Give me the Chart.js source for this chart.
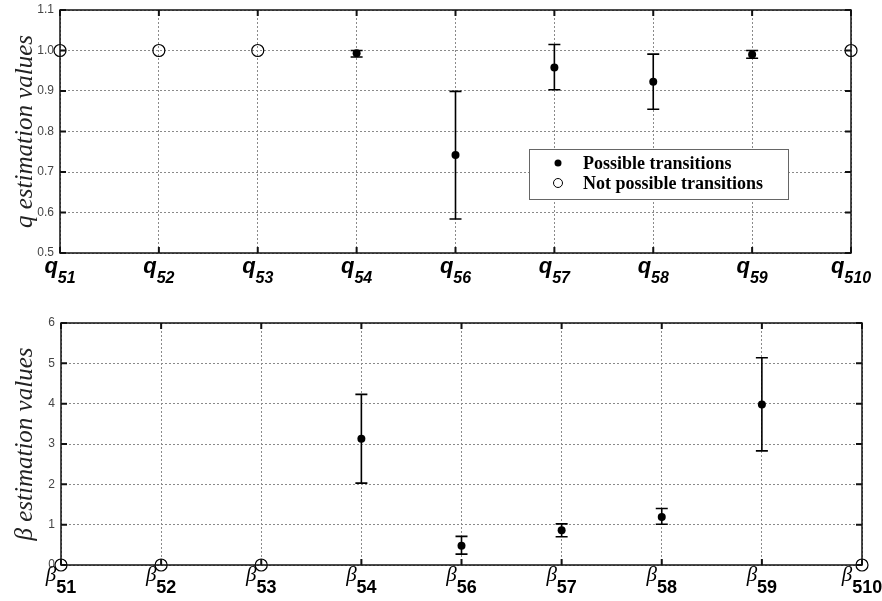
<!DOCTYPE html>
<html>
<head>
<meta charset="utf-8">
<script src="https://cdn.jsdelivr.net/npm/chart.js@4.4.1/dist/chart.umd.min.js"></script>
<style>
  body { margin: 0; background: #fff; width: 882px; height: 601px; overflow: hidden; }
  canvas { position: absolute; left: 0; }
</style>
</head>
<body>
<canvas id="q-chart" width="882" height="290" style="top:0"></canvas>
<canvas id="beta-chart" width="882" height="311" style="top:290px"></canvas>
<script>
// transitions out of state 5
const transitions = ['51', '52', '53', '54', '56', '57', '58', '59', '510'];
const possible = [false, false, false, true, true, true, true, true, false];

// q estimates with error bar ends
const qValues = [1, 1, 1, 0.993, 0.742, 0.958, 0.923, 0.990, 1];
const qLow = [null, null, null, 0.984, 0.584, 0.903, 0.855, 0.981, null];
const qHigh = [null, null, null, 1.0, 0.899, 1.015, 0.991, 1.0, null];

// beta estimates with error bar ends
const betaValues = [0, 0, 0, 3.13, 0.48, 0.86, 1.19, 3.98, 0];
const betaLow = [null, null, null, 2.03, 0.27, 0.70, 1.01, 2.83, null];
const betaHigh = [null, null, null, 4.23, 0.71, 1.02, 1.40, 5.14, null];

const legendLabels = ['Possible transitions', 'Not possible transitions'];

function splitData(values, keep) {
    return values.map((v, i) => possible[i] === keep ? v : null);
}

// error bars, frame with inner ticks, custom axis labels
const decorPlugin = {
    id: 'decor',
    beforeDatasetsDraw(chart, args, opts) {
        const ctx = chart.ctx, x = chart.scales.x, y = chart.scales.y;
        ctx.save();
        ctx.strokeStyle = '#000';
        ctx.lineWidth = 1.6;
        opts.low.forEach((lo, i) => {
            if (lo === null) return;
            const px = x.getPixelForValue(i);
            const y1 = y.getPixelForValue(lo), y2 = y.getPixelForValue(opts.high[i]);
            ctx.beginPath();
            ctx.moveTo(px, y1); ctx.lineTo(px, y2);
            ctx.moveTo(px - 6, y1); ctx.lineTo(px + 6, y1);
            ctx.moveTo(px - 6, y2); ctx.lineTo(px + 6, y2);
            ctx.stroke();
        });
        ctx.restore();
    },
    afterDraw(chart, args, opts) {
        const ctx = chart.ctx, a = chart.chartArea, x = chart.scales.x, y = chart.scales.y;
        ctx.save();
        // frame
        ctx.strokeStyle = '#111';
        ctx.lineWidth = 1.5;
        ctx.strokeRect(a.left, a.top, a.right - a.left, a.bottom - a.top);
        // inner ticks
        ctx.lineWidth = 2;
        ctx.beginPath();
        y.ticks.forEach(t => {
            const py = y.getPixelForValue(t.value);
            ctx.moveTo(a.left, py); ctx.lineTo(a.left + 6, py);
            ctx.moveTo(a.right, py); ctx.lineTo(a.right - 6, py);
        });
        transitions.forEach((_, i) => {
            const px = x.getPixelForValue(i);
            ctx.moveTo(px, a.top); ctx.lineTo(px, a.top + 6);
            ctx.moveTo(px, a.bottom); ctx.lineTo(px, a.bottom - 6);
        });
        ctx.stroke();

        // x labels with subscripts
        ctx.fillStyle = '#000';
        ctx.textBaseline = 'alphabetic';
        ctx.textAlign = 'left';
        transitions.forEach((sub, i) => {
            const px = x.getPixelForValue(i);
            ctx.font = opts.mainFont;
            const w1 = ctx.measureText(opts.symbol).width;
            ctx.font = opts.subFont;
            const w2 = ctx.measureText(sub).width;
            const x0 = px - (w1 + w2) / 2;
            ctx.font = opts.mainFont;
            ctx.fillText(opts.symbol, x0, a.bottom + opts.mainDy);
            ctx.font = opts.subFont;
            ctx.fillText(sub, x0 + w1, a.bottom + opts.subDy);
        });

        // y title
        ctx.save();
        ctx.translate(opts.titleX, (a.top + a.bottom) / 2);
        ctx.rotate(-Math.PI / 2);
        ctx.textAlign = 'center';
        ctx.textBaseline = 'middle';
        ctx.font = 'italic 25px "Liberation Serif", serif';
        ctx.fillStyle = '#222';
        ctx.fillText(opts.title, 0, 0);
        ctx.restore();

        // legend
        if (opts.legend) {
            const L = opts.legend;
            ctx.fillStyle = '#fff';
            ctx.fillRect(L.x, L.y, L.w, L.h);
            ctx.strokeStyle = '#666';
            ctx.lineWidth = 1;
            ctx.strokeRect(L.x + 0.5, L.y + 0.5, L.w, L.h);
            ctx.font = 'bold 18px "Liberation Serif", serif';
            ctx.textBaseline = 'middle';
            legendLabels.forEach((txt, k) => {
                const ry = L.y + 14 + k * 20;
                ctx.beginPath();
                ctx.arc(L.x + 29, ry, k === 0 ? 3.5 : 4.5, 0, Math.PI * 2);
                if (k === 0) { ctx.fillStyle = '#000'; ctx.fill(); }
                else { ctx.strokeStyle = '#000'; ctx.lineWidth = 1; ctx.stroke(); }
                ctx.fillStyle = '#000';
                ctx.fillText(txt, L.x + 54, ry + 1);
            });
        }
        ctx.restore();
    }
};

function makeChart(id, values, low, high, yMin, yMax, step, pad, yWidth, xHeight, decor) {
    return new Chart(document.getElementById(id).getContext('2d'), {
        type: 'line',
        data: {
            labels: transitions,
            datasets: [{
                label: legendLabels[0],
                data: splitData(values, true),
                showLine: false,
                pointRadius: 4,
                pointBackgroundColor: '#000',
                pointBorderColor: '#000',
                pointBorderWidth: 0,
                clip: false
            }, {
                label: legendLabels[1],
                data: splitData(values, false),
                showLine: false,
                pointRadius: 6,
                pointBackgroundColor: 'rgba(0,0,0,0)',
                pointBorderColor: '#000',
                pointBorderWidth: 1.2,
                clip: false
            }]
        },
        options: {
            responsive: false,
            animation: false,
            devicePixelRatio: 1,
            layout: { padding: pad },
            plugins: {
                legend: { display: false },
                tooltip: { enabled: false },
                decor: Object.assign({ low: low, high: high }, decor)
            },
            scales: {
                x: {
                    type: 'category',
                    offset: false,
                    grid: { offset: false, color: '#8a8a8a', lineWidth: 1, drawTicks: false },
                    border: { display: false, dash: [2, 2] },
                    ticks: { display: false },
                    afterFit: s => { s.height = xHeight; s.paddingLeft = 0; s.paddingRight = 0; }
                },
                y: {
                    min: yMin,
                    max: yMax,
                    ticks: {
                        stepSize: step,
                        padding: 6,
                        color: '#444',
                        font: { family: '"Liberation Sans", Arial, sans-serif', size: 12 }
                    },
                    grid: { color: '#8a8a8a', lineWidth: 1, drawTicks: false },
                    border: { display: false, dash: [2, 2] },
                    afterFit: s => { s.width = yWidth; s.paddingTop = 0; s.paddingBottom = 0; }
                }
            }
        },
        plugins: [decorPlugin]
    });
}

makeChart('q-chart', qValues, qLow, qHigh, 0.5, 1.1, 0.1,
    { top: 10, right: 31, left: 0, bottom: 0 }, 60, 37, {
        symbol: 'q',
        mainFont: 'bold italic 22px "Liberation Sans", Arial, sans-serif',
        subFont: 'bold italic 16px "Liberation Sans", Arial, sans-serif',
        mainDy: 20, subDy: 30,
        title: 'q estimation values',
        titleX: 25,
        legend: { x: 529, y: 149, w: 259, h: 50 }
    });

makeChart('beta-chart', betaValues, betaLow, betaHigh, 0, 6, 1,
    { top: 33, right: 20, left: 0, bottom: 0 }, 61, 36, {
        symbol: 'β',
        mainFont: 'italic 21px "Liberation Serif", serif',
        subFont: 'bold 18px "Liberation Sans", Arial, sans-serif',
        mainDy: 16, subDy: 28,
        title: 'β estimation values',
        titleX: 25
    });
</script>
</body>
</html>
